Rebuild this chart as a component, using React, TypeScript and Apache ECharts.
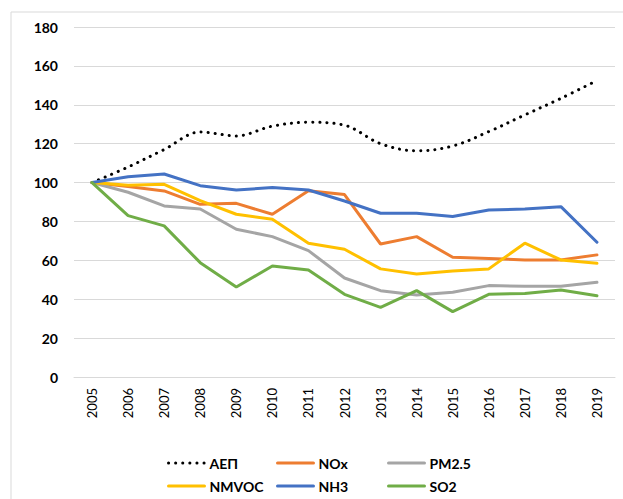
import React, { useEffect, useRef } from "react";
import * as echarts from "echarts";

const years = ["2005","2006","2007","2008","2009","2010","2011","2012","2013","2014","2015","2016","2017","2018","2019"];
const aep = [100, 108, 117, 126, 124, 129, 131, 129.5, 120, 116.3, 118.8, 126.2, 134.8, 143.3, 152.5];
const nox = [100, 98, 95.7, 88.8, 89.3, 83.7, 95.8, 93.8, 68.4, 72.2, 61.6, 61, 60.2, 60.2, 62.8];
const pm25 = [100, 95, 88, 86.4, 76, 72.2, 65, 50.9, 44.4, 42.2, 43.6, 47, 46.7, 46.7, 48.7];
const nmvoc = [100, 98.6, 99.1, 90.7, 83.7, 81.1, 68.8, 65.7, 55.6, 53, 54.5, 55.6, 68.8, 60.2, 58.5];
const nh3 = [100, 103, 104.4, 98.4, 96.2, 97.4, 96.2, 90.5, 84.2, 84.2, 82.5, 85.9, 86.4, 87.6, 69.3];
const so2 = [100, 83, 77.7, 58.8, 46.3, 57.1, 55, 42.5, 35.8, 44.4, 33.6, 42.5, 43, 44.7, 41.8];
const yTicks = [0, 180, 20];

const seriesDefs = [
  { name: "ΑΕΠ", data: aep, color: "#000000", type: "dotted", smooth: true },
  { name: "NOx", data: nox, color: "#ED7D31", type: "solid", smooth: false },
  { name: "PM2.5", data: pm25, color: "#A5A5A5", type: "solid", smooth: false },
  { name: "NMVOC", data: nmvoc, color: "#FFC000", type: "solid", smooth: false },
  { name: "NH3", data: nh3, color: "#4472C4", type: "solid", smooth: false },
  { name: "SO2", data: so2, color: "#70AD47", type: "solid", smooth: false },
];

const legendPos = [
  [167, 456], [276, 456], [387, 456],
  [167, 479], [276, 479], [387, 479],
];

export default function App() {
  const ref = useRef<HTMLDivElement>(null);
  useEffect(() => {
    if (!ref.current) return;
    const chart = echarts.init(ref.current, null, { renderer: "svg" });
    const font = "Lato, 'Open Sans', sans-serif";
    chart.setOption({
      animation: false,
      backgroundColor: "#ffffff",
      textStyle: { fontFamily: font },
      graphic: [
        {
          type: "rect",
          shape: { x: 11, y: 12, width: 700, height: 600 },
          style: { fill: "none", stroke: "#d9d9d9", lineWidth: 1 },
          silent: true,
        },
      ],
      grid: { left: 74, right: 8, top: 27, bottom: 122, containLabel: false },
      legend: seriesDefs.map((s, i) => ({
        data: [s.name],
        left: legendPos[i][0],
        top: legendPos[i][1],
        itemWidth: 36,
        itemHeight: 14,
        itemGap: 0,
        padding: 0,
        selectedMode: false,
        itemStyle: { opacity: 0 },
        lineStyle: { width: 3 },
        textStyle: { fontFamily: font, fontSize: 14, fontWeight: "bold", color: "#000" },
      })),
      xAxis: {
        type: "category",
        data: years,
        boundaryGap: true,
        axisLine: { show: true, lineStyle: { color: "#d9d9d9", width: 1 } },
        axisTick: { show: false },
        axisLabel: { rotate: 90, margin: 11, fontSize: 13, color: "#000", fontFamily: font },
      },
      yAxis: {
        type: "value",
        min: yTicks[0],
        max: yTicks[1],
        interval: yTicks[2],
        axisLine: { show: false },
        axisTick: { show: false },
        axisLabel: { fontSize: 14, fontWeight: "bold", color: "#000", margin: 16, fontFamily: font },
        splitLine: { lineStyle: { color: "#d9d9d9", width: 1 } },
      },
      series: seriesDefs.map((s) => ({
        name: s.name,
        type: "line",
        data: s.data,
        smooth: s.smooth ? 0.35 : false,
        symbol: "none",
        color: s.color,
        lineStyle: {
          color: s.color,
          width: 3,
          type: s.type === "dotted" ? [0.1, 7] : "solid",
          cap: "round",
        },
      })),
    });
    return () => chart.dispose();
  }, []);
  return (
    <div
      ref={ref}
      style={{ position: "absolute", left: 0, top: 0, width: 623, height: 499 }}
    />
  );
}
